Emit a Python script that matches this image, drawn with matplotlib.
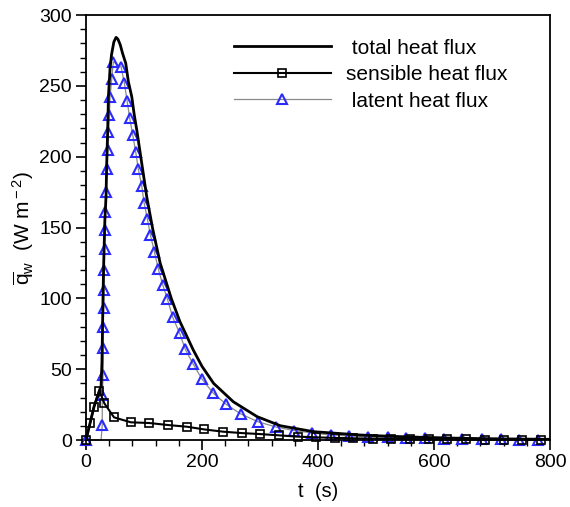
import matplotlib
matplotlib.use("Agg")
import matplotlib.pyplot as plt
from matplotlib.ticker import MultipleLocator

plt.rcParams['font.family'] = ['Liberation Sans', 'DejaVu Sans']
plt.rcParams['mathtext.fontset'] = 'custom'
plt.rcParams['mathtext.rm'] = 'Liberation Sans'
plt.rcParams['mathtext.it'] = 'Liberation Sans:italic'

# total heat flux
total_t = [0, 6.9, 13.8, 23, 26, 27.5, 28.5, 29.5, 30.5, 31.5, 32.5, 34.5, 35.7, 37.4,
           38.6, 41.4, 44, 48, 51.8, 55, 59, 63, 68.5, 73, 78.9, 83, 87.5, 96.1, 104.7,
           115, 127.8, 147, 162, 185, 200, 220, 254, 295, 335, 392, 430, 470, 520,
           580, 650, 720, 800]
total_q = [0, 11.8, 23.5, 34.8, 38, 55, 80, 105, 125, 140, 155, 172, 195, 219,
           242, 262, 272, 281, 284.2, 283, 279, 273, 265.9, 253, 242.3, 230, 218.8, 195.3, 171.7,
           149, 125, 100, 83.5, 63.5, 52, 40, 27, 16.5, 10.1, 5.9, 4.8, 3.6, 2.7,
           1.9, 1.2, 0.8, 0.5]

# sensible heat flux
sens_t = [0, 6.9, 13.8, 23, 31.6, 48.3, 77.2, 109.3, 141, 173.9, 203.7, 236, 268.8,
          300.4, 332.7, 365, 397, 429, 461, 494, 526, 558, 591, 623, 655, 688, 720,
          752, 784]
sens_q = [0, 11.8, 23.5, 34.8, 25.9, 16, 12.5, 12, 10.6, 9.4, 7.5, 5.9, 4.9,
          4.2, 3.3, 2.4, 1.9, 1.5, 1.2, 1.0, 0.8, 0.7, 0.6, 0.5, 0.4, 0.3, 0.3,
          0.2, 0.2]

# latent heat flux
lat_t = [0, 26, 28, 28, 29.5, 29.5, 29.5, 30.5, 31, 31.5, 32, 32.5, 33.5, 34.5,
         35.7, 37.4, 38.5, 40.3, 41.4, 44.3, 47.1, 60.4, 66.2, 70.8, 75.4, 80.6,
         85.8, 90.3, 96.1, 100.1, 105.8, 111, 117.9, 124.8, 132.4, 140.4, 149.6,
         161.5, 171, 185, 200, 218.7, 241.7, 267, 296.4, 327.5, 358, 390.5, 422,
         454, 487, 520, 552, 585, 617, 649, 682, 715, 747, 780]
lat_q = [0, 0, 10.6, 31.8, 45.9, 64.7, 79.5, 93, 106, 120, 134.6, 148.2, 161.2, 174.8,
         191, 204.7, 217.6, 229.4, 241.9, 254.6, 267, 263.5, 251.8, 239.5, 227, 215.3,
         203, 191, 179.3, 167.5, 156, 144.7, 132.9, 120.5, 109.4, 99.3, 86.6,
         75.3, 64.2, 53.4, 43, 33.4, 25.2, 18.4, 12.9, 9.2, 6.7, 5.0, 3.5,
         2.8, 2.4, 1.9, 1.6, 1.2, 0.9, 0.7, 0.5, 0.5, 0.3, 0.2]

fig = plt.figure(figsize=(5.7, 5.07), dpi=100)
ax = fig.add_axes([0.1509, 0.1321, 0.8140, 0.8383])

blue = '#2b2bff'
marks = [i for i in range(len(lat_t)) if i != 1]
l3, = ax.plot(lat_t, lat_q, color='#8a8a8a', lw=0.9, marker='^', ms=7.5,
              mfc='none', mec=blue, mew=1.5, markevery=marks, clip_on=False,
              label=' latent heat flux', zorder=2)
l2, = ax.plot(sens_t, sens_q, color='black', lw=1.5, marker='s', ms=6,
              mfc='none', mec='black', mew=1.2, clip_on=False,
              label='sensible heat flux', zorder=3)
l1, = ax.plot(total_t, total_q, color='black', lw=2.0, label=' total heat flux',
              zorder=4)

ax.set_xlim(0, 800)
ax.set_ylim(0, 300)
ax.xaxis.set_major_locator(MultipleLocator(200))
ax.xaxis.set_minor_locator(MultipleLocator(40))
ax.yaxis.set_major_locator(MultipleLocator(50))
ax.yaxis.set_minor_locator(MultipleLocator(10))
ax.tick_params(which='major', direction='out', length=7, width=1.2,
               labelsize=14, top=False, right=False, pad=3)
ax.tick_params(which='minor', direction='out', length=4, width=1.0,
               top=False, right=False)
for s in ax.spines.values():
    s.set_linewidth(1.3)

ax.set_xlabel('t  (s)', fontsize=14.5, labelpad=8)
ax.set_ylabel(r'$\overline{\rm q}_{\rm w}$  (W m$^{\rm -2}$)', fontsize=15,
              labelpad=2)

ax.legend(handles=[l1, l2, l3], loc='upper left', bbox_to_anchor=(0.3, 0.964),
          frameon=False, fontsize=15, handlelength=4.7, handletextpad=0.7,
          labelspacing=0.36, numpoints=1, borderaxespad=0)

fig.savefig('out.png', dpi=100)
